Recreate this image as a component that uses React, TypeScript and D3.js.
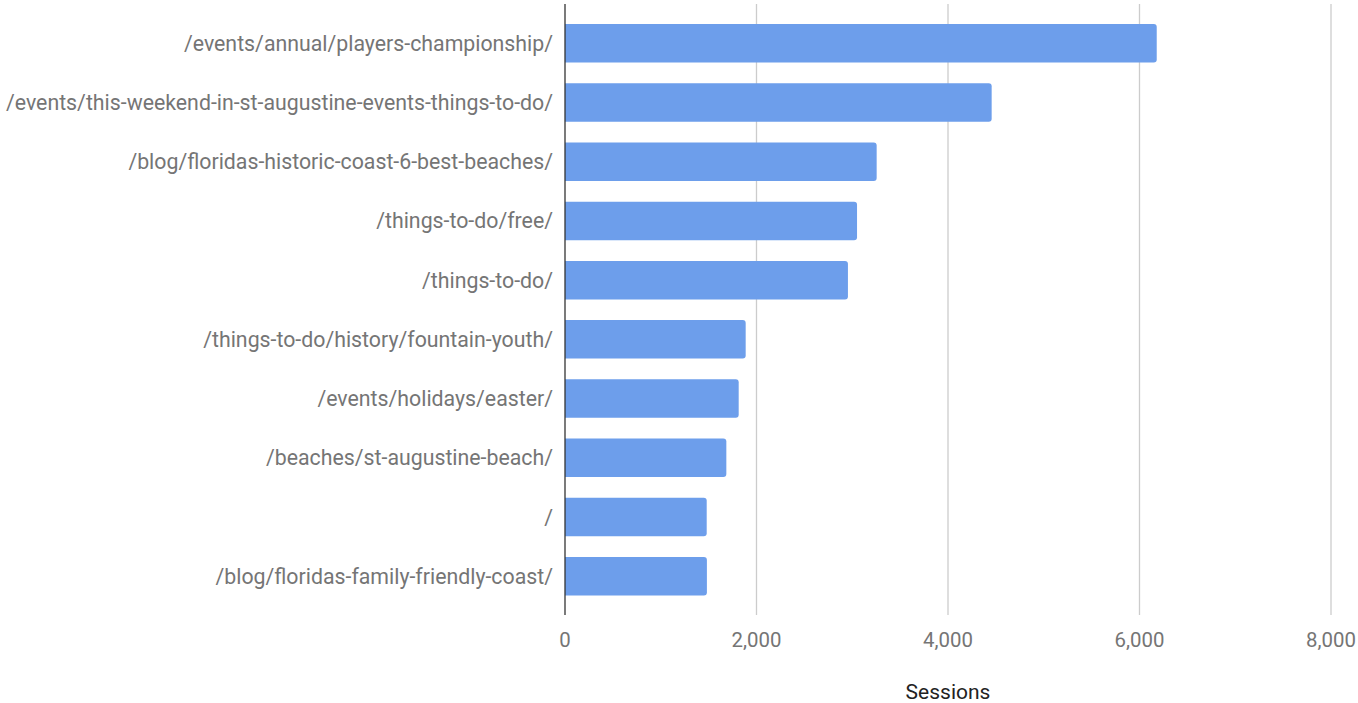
import React from "react";
import * as d3 from "d3";

const categories = [
  "/events/annual/players-championship/",
  "/events/this-weekend-in-st-augustine-events-things-to-do/",
  "/blog/floridas-historic-coast-6-best-beaches/",
  "/things-to-do/free/",
  "/things-to-do/",
  "/things-to-do/history/fountain-youth/",
  "/events/holidays/easter/",
  "/beaches/st-augustine-beach/",
  "/",
  "/blog/floridas-family-friendly-coast/",
];
const sessions = [6180, 4456, 3255, 3050, 2955, 1887, 1814, 1685, 1480, 1482];
const xTicks = [0, 2000, 4000, 6000, 8000];
const xTitle = "Sessions";

const W = 1358;
const H = 703;

export default function App() {
  const x = d3.scaleLinear().domain([0, 8000]).range([565, 1331]);
  const y = d3
    .scaleBand<string>()
    .domain(categories)
    .range([13.3, 606.2])
    .paddingInner(0.35)
    .paddingOuter(0.18);
  const fmt = d3.format(",");
  const font = "Roboto, 'Noto Sans', Arial, sans-serif";
  return (
    <svg
      width={W}
      height={H}
      style={{ position: "absolute", left: 0, top: 0, background: "#fff" }}
      fontFamily={font}
    >
      {xTicks.slice(1).map((t) => (
        <line key={t} x1={x(t)} x2={x(t)} y1={4} y2={615} stroke="#cccccc" strokeWidth={1.3} />
      ))}
      {categories.map((c, i) => {
        const w = x(sessions[i]) - x(0);
        const y0 = y(c)!;
        const h = y.bandwidth();
        const r = 3;
        const x0 = x(0);
        const path = `M${x0},${y0} H${x0 + w - r} Q${x0 + w},${y0} ${x0 + w},${y0 + r} V${y0 + h - r} Q${x0 + w},${y0 + h} ${x0 + w - r},${y0 + h} H${x0} Z`;
        return <path key={c} d={path} fill="#6d9eeb" />;
      })}
      <line x1={x(0)} x2={x(0)} y1={4} y2={615} stroke="#333333" strokeWidth={1.3} />
      {categories.map((c) => (
        <text
          key={c}
          x={553}
          y={y(c)! + y.bandwidth() / 2}
          dy="0.35em"
          textAnchor="end"
          fontSize={21.3}
          fill="#757575"
        >
          {c}
        </text>
      ))}
      {xTicks.map((t) => (
        <text key={t} x={x(t)} y={647} textAnchor="middle" fontSize={20.4} fill="#757575">
          {fmt(t)}
        </text>
      ))}
      <text x={948} y={699} textAnchor="middle" fontSize={21} fill="#222222">
        {xTitle}
      </text>
    </svg>
  );
}
